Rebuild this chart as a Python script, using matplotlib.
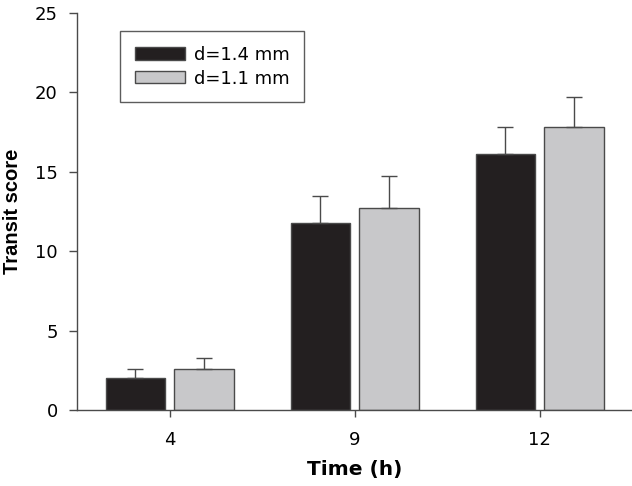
import matplotlib.pyplot as plt
import numpy as np

plt.rcParams['font.family'] = ['DejaVu Sans']

times = ['4', '9', '12']
d14_mean = [2.0, 11.8, 16.1]
d14_err = [0.6, 1.7, 1.7]
d11_mean = [2.6, 12.7, 17.8]
d11_err = [0.7, 2.0, 1.9]

x = np.arange(len(times))
w = 0.32
off = 0.186
edge = '#4a4a4a'

fig = plt.figure(figsize=(6.32, 4.86), dpi=100)
ax = fig.add_axes([0.122, 0.156, 0.878, 0.818])

ax.bar(x - off, d14_mean, w, color='#231f20', edgecolor=edge, linewidth=1,
       yerr=[np.zeros(3), d14_err], error_kw=dict(ecolor=edge, elinewidth=1, capsize=6, capthick=1),
       label='d=1.4 mm', zorder=2)
ax.bar(x + off, d11_mean, w, color='#c8c8ca', edgecolor=edge, linewidth=1,
       yerr=[np.zeros(3), d11_err], error_kw=dict(ecolor=edge, elinewidth=1, capsize=6, capthick=1),
       label='d=1.1 mm', zorder=2)

ax.set_xlim(-0.5, 2.5)
ax.set_ylim(0, 25)
ax.set_yticks([0, 5, 10, 15, 20, 25])
ax.set_xticks(x)
ax.set_xticklabels(times)
ax.tick_params(axis='both', labelsize=13, color=edge, direction='out', width=1)
ax.tick_params(axis='y', length=6, pad=8)
ax.tick_params(axis='x', length=5, pad=10)

for s in ['top', 'right']:
    ax.spines[s].set_visible(False)
for s in ['left', 'bottom']:
    ax.spines[s].set_color(edge)
    ax.spines[s].set_linewidth(1)

ax.set_xlabel('Time (h)', fontsize=14.5, fontweight='bold', labelpad=8)
ax.set_ylabel('Transit score', fontsize=14.5, fontweight='bold', labelpad=9,
              family=['Liberation Sans', 'DejaVu Sans'])

leg = ax.legend(loc='upper left', bbox_to_anchor=(0.0775, 0.953), borderaxespad=0,
                fontsize=13, frameon=True, fancybox=False, edgecolor='#333333',
                handlelength=2.8, handleheight=0.67, borderpad=0.8,
                labelspacing=0.32, handletextpad=0.5)
leg.get_frame().set_linewidth(1)

fig.savefig('out.png', dpi=100)
